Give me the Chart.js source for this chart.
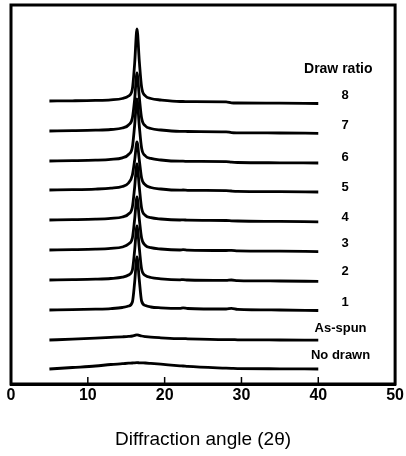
<!DOCTYPE html>
<html>
<head>
<meta charset="utf-8">
<script src="https://cdn.jsdelivr.net/npm/chart.js@4/dist/chart.umd.min.js"></script>
<style>
html,body{margin:0;padding:0;background:#fff;}
#wrap{width:406px;height:456px;}
</style>
</head>
<body>
<div id="wrap"><canvas id="c" width="406" height="456"></canvas></div>
<script>
// Diffraction angle (2θ) sample positions shared by all patterns
const angle = [5, 8, 11, 13, 14.5, 15.3, 15.8, 16.1, 16.4, 16.7, 17.0, 17.5, 18.2, 19.5, 22, 22.4, 23, 28, 28.7, 29.5, 35, 40];

// Relative intensities (above each pattern's own baseline)
const noDrawn = [0, 1.5, 3, 4.5, 5.3, 5.8, 6, 6.2, 6.3, 6.2, 6.1, 6, 5.6, 4.8, 3.2, 3, 2.6, 0.8, 0.6, 0.4, 0.2, 0];
const asSpun  = [0, 0.8, 1.8, 2.6, 3.2, 3.6, 4, 4.6, 5.2, 4.6, 4, 3.4, 2.8, 2.2, 1.4, 1.4, 1.2, 0.4, 0.4, 0.2, 0, -0.2];
const ratio1  = [0, 0.3, 0.8, 1.4, 2.5, 4, 8, 28, 53, 30, 9, 4.5, 3, 2.2, 1.6, 2.2, 1.5, 1, 1.6, 0.6, 0, -0.5];
const ratio2  = [0, 0.3, 0.8, 1.5, 2.8, 5, 10, 30, 54, 32, 11, 4.5, 2.5, 1.2, 0.2, 0.4, 0, -0.4, 0, -0.6, -1, -1.4];
const ratio3  = [0, 0.3, 0.8, 1.6, 3, 6, 12, 31, 53, 31, 12, 4.5, 2.3, 1, 0, 0.3, -0.1, -0.5, -0.4, -0.8, -1.2, -1.6];
const ratio4  = [0, 0.3, 0.8, 1.6, 3, 6, 13, 33, 56, 33, 12, 4.5, 2.3, 1, 0, 0.2, -0.2, -0.5, -0.8, -1, -1.4, -1.8];
const ratio5  = [0, 0.3, 0.9, 1.8, 3.5, 7, 15, 30, 48, 30, 12, 5, 2.5, 1, -0.2, 0, -0.3, -0.6, -1, -1.3, -1.6, -2];
const ratio6  = [0, 0.3, 0.8, 1.6, 3.2, 6.5, 14, 36, 62, 35, 13, 5, 2.6, 1, -0.2, -0.2, -0.4, -0.6, -1.2, -1.5, -1.8, -2];
const ratio7  = [0, 0.3, 0.8, 1.5, 3, 6, 13, 32, 58, 34, 13, 5, 2.5, 1, -0.3, -0.3, -0.5, -0.8, -1.6, -1.8, -2, -2.3];
const ratio8  = [0, 0.2, 0.6, 1.2, 2.5, 5, 12, 38, 72, 40, 14, 5, 2.5, 1, -0.5, -0.5, -0.6, -0.8, -1.8, -2, -2.2, -2.5];

const seriesNames = ['No drawn', 'As-spun', '1', '2', '3', '4', '5', '6', '7', '8'];
const seriesValues = [noDrawn, asSpun, ratio1, ratio2, ratio3, ratio4, ratio5, ratio6, ratio7, ratio8];
// vertical stacking offsets of each pattern (arbitrary intensity units)
const offsets = [15, 44, 74, 104, 134, 164, 194, 223, 253, 283];
// label height above each pattern's baseline
const labelRise = [14, 12, 8, 9, 7, 3, 3, 4, 6, 6];
const labelAngle = 43.5;
const legendTitle = 'Draw ratio';
const legendTitlePos = [42.6, 315];

const xTicks = [0, 10, 20, 30, 40, 50];
const xTitle = 'Diffraction angle (2\u03b8)';

const FONT = "'Liberation Sans', Arial, Helvetica, sans-serif";

const datasets = seriesValues.map((vals, i) => ({
  label: seriesNames[i],
  data: vals.map((v, j) => ({ x: angle[j], y: v + offsets[i] })),
  borderColor: '#000',
  borderWidth: 2.8,
  pointRadius: 0,
  fill: false,
  cubicInterpolationMode: 'monotone'
}));

const decor = {
  id: 'decor',
  afterDraw(chart) {
    const { ctx, chartArea: a, scales: { x, y } } = chart;
    ctx.save();
    ctx.strokeStyle = '#000';
    // frame
    ctx.lineWidth = 3;
    ctx.strokeRect(a.left, a.top, a.right - a.left, a.bottom - a.top);
    // inward ticks
    ctx.lineWidth = 1.5;
    xTicks.forEach(t => {
      if (t === x.min || t === x.max) return;
      const px = x.getPixelForValue(t);
      ctx.beginPath();
      ctx.moveTo(px, a.bottom);
      ctx.lineTo(px, a.bottom - 7);
      ctx.stroke();
    });
    // labels
    ctx.fillStyle = '#000';
    ctx.textAlign = 'center';
    ctx.textBaseline = 'middle';
    ctx.font = 'bold 13px ' + FONT;
    seriesNames.forEach((n, i) => {
      ctx.fillText(n, x.getPixelForValue(labelAngle - (n.length > 2 ? 0.6 : 0)), y.getPixelForValue(offsets[i] + labelRise[i]));
    });
    ctx.font = 'bold 14px ' + FONT;
    ctx.fillText(legendTitle, x.getPixelForValue(legendTitlePos[0]), y.getPixelForValue(legendTitlePos[1]));
    ctx.restore();
  }
};

new Chart(document.getElementById('c'), {
  type: 'line',
  data: { datasets },
  plugins: [decor],
  options: {
    responsive: false,
    animation: false,
    layout: { padding: { left: 11, right: 10, top: 5, bottom: 0 } },
    plugins: { legend: { display: false }, tooltip: { enabled: false } },
    scales: {
      x: {
        type: 'linear',
        min: 0, max: 50,
        afterBuildTicks: s => { s.ticks = xTicks.map(v => ({ value: v })); },
        afterFit: s => { s.height = 72; },
        grid: { display: false, drawTicks: false },
        border: { display: true, color: '#000', width: 3 },
        ticks: { color: '#000', padding: 2, font: { family: FONT, size: 16, weight: 'bold' }, maxRotation: 0 },
        title: { display: true, text: xTitle, color: '#000', padding: { top: 0, bottom: 5 }, font: { family: FONT, size: 19 } }
      },
      y: { display: false, min: 0, max: 379 }
    }
  }
});
</script>
</body>
</html>
